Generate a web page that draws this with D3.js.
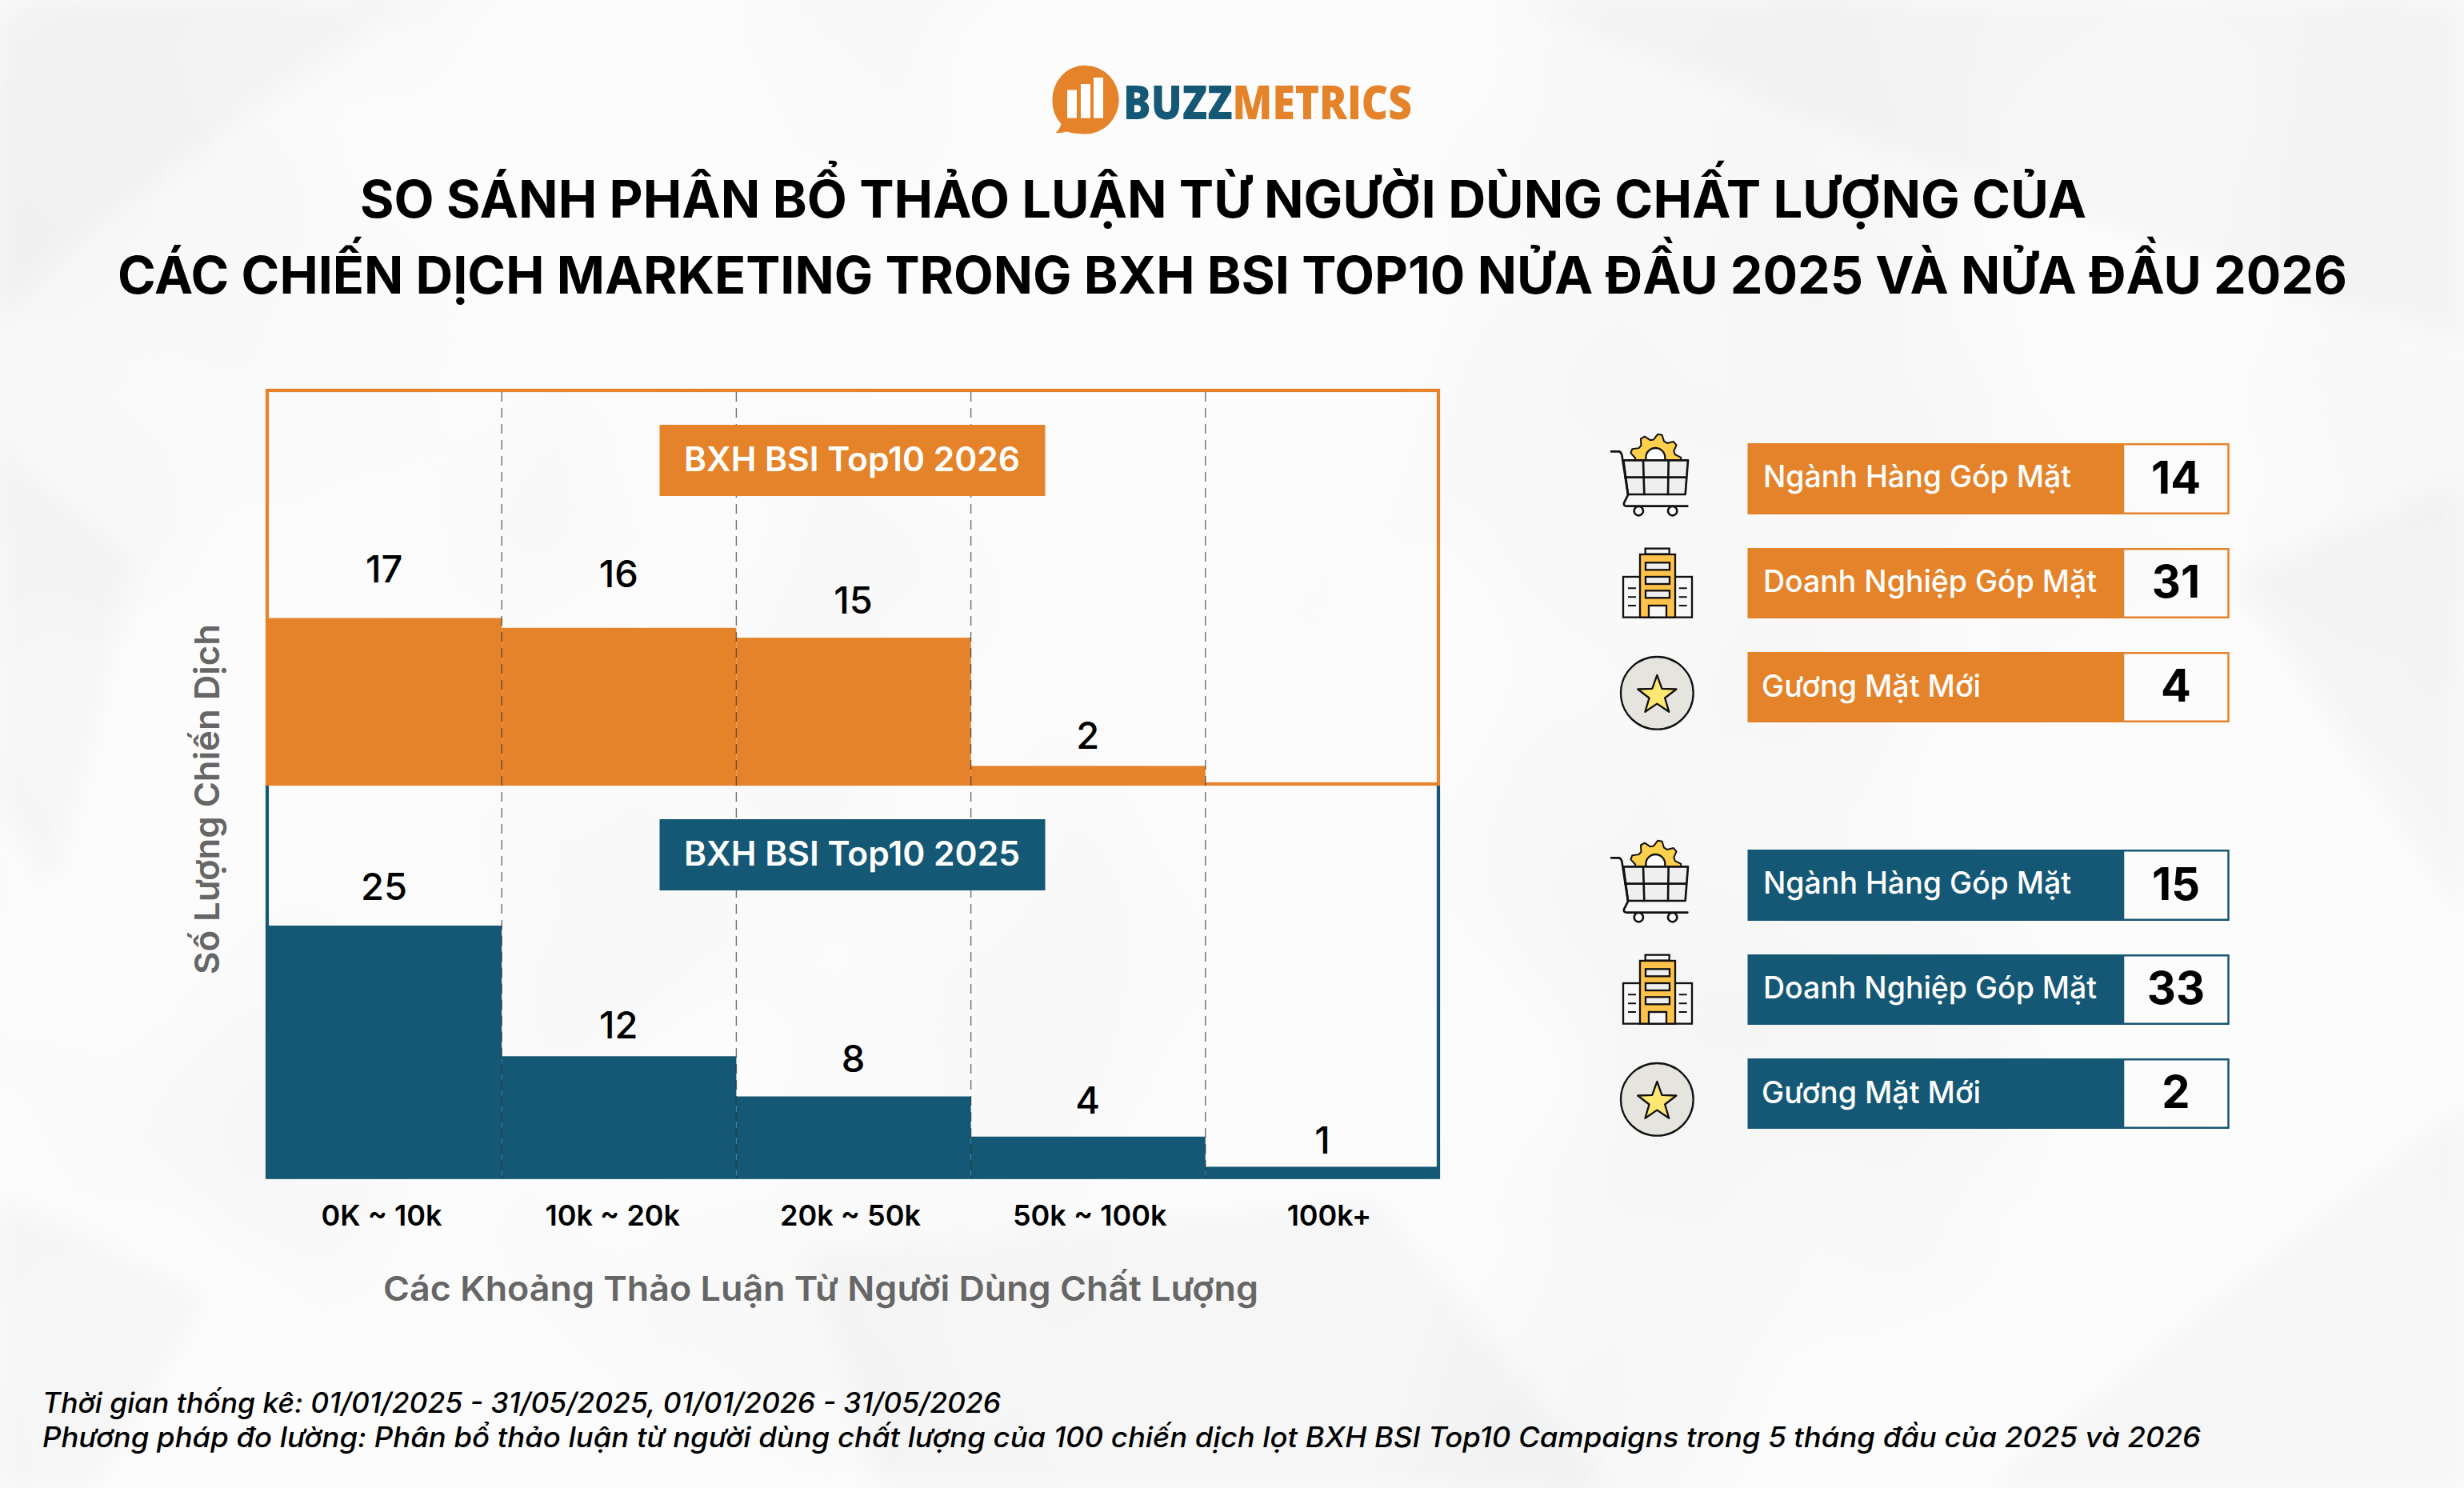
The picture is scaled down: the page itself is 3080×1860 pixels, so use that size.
<!DOCTYPE html>
<html lang="vi">
<head>
<meta charset="utf-8">
<title>So sánh phân bổ thảo luận</title>
<script src="https://cdn.jsdelivr.net/npm/d3@7"></script>
<style>
html,body{margin:0;padding:0;background:#fafafa}
svg{display:block}
text{font-family:Inter,"Noto Sans",sans-serif}
</style>
</head>
<body>
<div id="chart"></div>
<script>
// ---- data ----
const categories = ["0K ~ 10k","10k ~ 20k","20k ~ 50k","50k ~ 100k","100k+"];
const values2026 = [17,16,15,2,0];
const values2025 = [25,12,8,4,1];
const statLabels = ["Ngành Hàng Góp Mặt","Doanh Nghiệp Góp Mặt","Gương Mặt Mới"];
const stats2026 = [14,31,4];
const stats2025 = [15,33,2];
const tag2026 = "BXH BSI Top10 2026";
const tag2025 = "BXH BSI Top10 2025";
const titleLines = ["SO SÁNH PHÂN BỔ THẢO LUẬN TỪ NGƯỜI DÙNG CHẤT LƯỢNG CỦA","CÁC CHIẾN DỊCH MARKETING TRONG BXH BSI TOP10 NỬA ĐẦU 2025 VÀ NỬA ĐẦU 2026"];
const xTitle = "Các Khoảng Thảo Luận Từ Người Dùng Chất Lượng";
const yTitle = "Số Lượng Chiến Dịch";
const notes = ["Thời gian thống kê: 01/01/2025 - 31/05/2025, 01/01/2026 - 31/05/2026","Phương pháp đo lường: Phân bổ thảo luận từ người dùng chất lượng của 100 chiến dịch lọt BXH BSI Top10 Campaigns trong 5 tháng đầu của 2025 và 2026"];

// ---- layout / style ----
const W=3080,H=1860, ORANGE="#e5832a", NAVY="#145876";
const labelGap2026=[44,51,30,21.5,0], labelGap2025=[32,22,31,29,16];
const tickDx=[-3.6,-8,-4,2,8];
const statWidths=[385,417,274], statX=[2204,2204,2202];
const statBase=[609,740,871], valueBase=[617,747,877], statOffset=508;
const rowTop=[554,685,815], rowH=[89,88,88];

const svg=d3.select("#chart").append("svg").attr("width",W).attr("height",H).attr("viewBox",`0 0 ${W} ${H}`);
const defs=svg.append("defs");

// paper background
const f=defs.append("filter").attr("id","paper").attr("x",0).attr("y",0).attr("width","100%").attr("height","100%");
f.append("feTurbulence").attr("type","fractalNoise").attr("baseFrequency","0.0016 0.0013").attr("numOctaves",3).attr("seed",4);
f.append("feColorMatrix").attr("values","0 0 0 0 0.45  0 0 0 0 0.45  0 0 0 0 0.45  0.2 0 0 0 -0.08");
defs.append("filter").attr("id","soft").attr("x","-20%").attr("y","-20%").attr("width","140%").attr("height","140%")
  .append("feGaussianBlur").attr("stdDeviation",16);
svg.append("rect").attr("width",W).attr("height",H).attr("fill","#fcfcfc");
svg.append("rect").attr("width",W).attr("height",H).attr("filter","url(#paper)");
const creases=["M0,0 L520,0 L130,270 L0,400 Z","M1900,0 L3080,0 L3080,430 L2420,210 Z","M0,560 L170,700 L70,1110 L0,1010 Z",
 "M2480,1860 L3080,1380 L3080,1860 Z","M2790,720 L3080,600 L3080,1150 Z","M1000,1570 L1720,1500 L2010,1860 L1100,1860 Z","M0,1500 L260,1620 L120,1860 L0,1860 Z"];
svg.append("g").attr("filter","url(#soft)").attr("fill","#000").attr("fill-opacity",.022)
  .selectAll("path").data(creases).join("path").attr("d",d=>d);

function fit(t,w){return t.attr("textLength",w).attr("lengthAdjust","spacingAndGlyphs");}

// logo
const logo=svg.append("g");
logo.append("path").attr("fill",ORANGE).attr("d","M1357,82 a41.5,42.5 0 0 1 0,85.5 q-14,0 -24,-3 q-7,2.500 -13.500,1.500 q5,-4 7,-11 a42,42 0 0 1 -11,-30 a41.500,42.500 0 0 1 41.500,-43.500 z");
d3.zip([1334,1351,1367],[112.4,105,97]).forEach(([x,y])=>logo.append("rect").attr("x",x).attr("y",y).attr("width",12).attr("height",147.6-y).attr("fill","#fff"));
const lt=fit(logo.append("text").attr("x",1404).attr("y",149).attr("font-size",58).attr("font-weight",800).style("font-family","'Open Sans'"),361);
lt.append("tspan").attr("fill",NAVY).text("BUZZ");
lt.append("tspan").attr("fill",ORANGE).text("METRICS");

// title
const titleG=svg.append("g").attr("font-weight",700).attr("font-size",64).attr("fill","#000");
fit(titleG.append("text").attr("x",450).attr("y",272).text(titleLines[0]),2158);
fit(titleG.append("text").attr("x",147).attr("y",367).text(titleLines[1]),2787);

// scales
const x=d3.scaleBand().domain(categories).range([334,1800]);
const yTop=d3.scaleLinear().domain([0,40]).range([982,489]);
const yBot=d3.scaleLinear().domain([0,25]).range([1471,1157]);
const panels=[{vals:values2026,y:yTop,base:982,col:ORANGE,gap:labelGap2026},{vals:values2025,y:yBot,base:1473.5,col:NAVY,gap:labelGap2025}];

// bars
panels.forEach(p=>{
  svg.append("g").selectAll("rect").data(p.vals.map((v,i)=>({v,c:categories[i]}))).join("rect")
    .attr("x",d=>x(d.c)).attr("width",x.bandwidth())
    .attr("y",d=>p.y(d.v)).attr("height",d=>Math.max(0,p.base-p.y(d.v))).attr("fill",p.col);
});

// frames
const frame=svg.append("g").attr("fill","none").attr("stroke-width",4.2);
frame.append("path").attr("stroke",NAVY).attr("d","M334,982 V1471.500 H1798 V982");
frame.append("rect").attr("x",334).attr("y",488).attr("width",1464).attr("height",492).attr("stroke",ORANGE);
svg.append("rect").attr("x",332).attr("y",1469.500).attr("width",1468).attr("height",4).attr("fill",NAVY);

// dashed dividers (drawn from band edges)
svg.append("g").selectAll("line").data(categories.slice(1)).join("line")
  .attr("x1",d=>x(d)).attr("x2",d=>x(d)).attr("y1",490).attr("y2",1472)
  .attr("stroke","#222").attr("stroke-opacity",.65).attr("stroke-width",1.4).attr("stroke-dasharray","12 8");

// tags
[[tag2026,ORANGE,531,589],[tag2025,NAVY,1024,1082]].forEach(([t,c,top,base])=>{
  svg.append("rect").attr("x",824.5).attr("y",top).attr("width",482).attr("height",89).attr("fill",c);
  fit(svg.append("text").attr("x",855).attr("y",base).attr("font-size",42).attr("font-weight",600).attr("fill","#fff").text(t),420);
});

// value labels
panels.forEach(p=>{
  svg.append("g").selectAll("text").data(p.vals.map((v,i)=>({v,i})).filter(d=>d.v>0)).join("text")
    .attr("x",d=>x(categories[d.i])+x.bandwidth()/2-.5).attr("y",d=>p.y(d.v)-p.gap[d.i])
    .attr("text-anchor","middle").attr("font-size",47).attr("font-weight",500).attr("fill","#000")
    .text(d=>d.v);
});

// x axis
const ax=svg.append("g").attr("transform","translate(0,1474)").call(d3.axisBottom(x).tickSize(0).tickPadding(0));
ax.select(".domain").remove();
ax.selectAll("text").attr("y",58).attr("dy",0).attr("dx",(d,i)=>tickDx[i]).attr("font-size",36).attr("font-weight",600).attr("fill","#000").style("font-family","Inter");

// axis titles
fit(svg.append("text").attr("x",479).attr("y",1626).attr("font-size",43).attr("font-weight",600).attr("fill","#666").text(xTitle),1094);
fit(svg.append("text").attr("transform","translate(274,1218) rotate(-90)").attr("font-size",43).attr("font-weight",600).attr("fill","#666").text(yTitle),438);

// stat rows
[[stats2026,ORANGE,0],[stats2025,NAVY,statOffset]].forEach(([vals,c,off])=>{
  vals.forEach((v,i)=>{
    const g=svg.append("g").attr("transform",`translate(0,${off})`);
    g.append("rect").attr("x",2184.5).attr("y",rowTop[i]).attr("width",469.5).attr("height",rowH[i]).attr("fill",c);
    g.append("rect").attr("x",2654).attr("y",rowTop[i]+1.25).attr("width",131.5).attr("height",rowH[i]-2.5).attr("fill","none").attr("stroke",c).attr("stroke-width",2.5);
    fit(g.append("text").attr("x",statX[i]).attr("y",statBase[i]).attr("font-size",38).attr("font-weight",500).attr("fill","#fff").text(statLabels[i]),statWidths[i]);
    g.append("text").attr("x",2720).attr("y",valueBase[i]).attr("text-anchor","middle").attr("font-size",56).attr("font-weight",700).attr("fill","#000").text(v);
  });
});

// icons (drawn on a 3× local grid)
function icons(dy){
  const g=svg.append("g").attr("transform",`translate(1990,${dy}) scale(.3333)`)
    .attr("stroke","#111").attr("stroke-width",8).attr("stroke-linejoin","round").attr("stroke-linecap","round");
  // gear
  const teeth=9,cx=238,cy=158,R=96,r=76;
  const pts=[];
  d3.range(teeth*4).forEach(k=>{
    const a=-Math.PI/2+k*Math.PI*2/(teeth*4)+Math.PI*2/(teeth*8);
    const rad=(k%4<2)?R:r;
    pts.push([cx+rad*Math.cos(a),cy+rad*Math.sin(a)]);
  });
  g.append("path").attr("d",d3.line().curve(d3.curveLinearClosed)(pts)).attr("fill","#ffcf4d").attr("stroke-width",6);
  g.append("path").attr("d",`M${cx-36},165 V150 a36,36 0 0 1 72,0 V165 Z`).attr("fill","#fff").attr("stroke-width",7);
  // basket
  g.append("path").attr("d","M118,160 H360 L350,288 H135 Z").attr("fill","#efefef");
  g.append("path").attr("fill","none").attr("d","M192,160 L196,288 M287,160 L285,288 M124,224 H354");
  g.append("path").attr("fill","none").attr("d","M72,127 H100 Q108,127 112,140 L135,290 L120,320 Q118,332 130,332 H358");
  g.append("circle").attr("cx",175).attr("cy",350).attr("r",17).attr("fill","#fff");
  g.append("circle").attr("cx",302).attr("cy",350).attr("r",17).attr("fill","#fff");
  // building
  const b=g.append("g").attr("stroke-linejoin","miter").attr("stroke-linecap","butt").attr("stroke-width",7);
  b.append("rect").attr("x",200).attr("y",491).attr("width",90).attr("height",21).attr("fill","#f8f8f8");
  b.append("rect").attr("x",117).attr("y",597).attr("width",258).attr("height",152).attr("fill","#f8f8f8");
  b.append("rect").attr("x",180).attr("y",513).attr("width",132).attr("height",236).attr("fill","#ffc24a");
  [544,597,649].forEach(y=>b.append("rect").attr("x",201).attr("y",y).attr("width",90).attr("height",27).attr("fill","#eee"));
  b.append("rect").attr("x",213).attr("y",705).attr("width",66).attr("height",44).attr("fill","#f8f8f8");
  [640,673,705].forEach(y=>{
    b.append("path").attr("d",`M135,${y} H165 M326,${y} H356`).attr("fill","none").attr("stroke-width",6);
  });
  // star
  g.append("circle").attr("cx",244).attr("cy",1033).attr("r",136).attr("fill","#e6e4de").attr("stroke-width",7);
  const star=d3.range(10).map(k=>{
    const a=-Math.PI/2+k*Math.PI/5,rad=k%2?31:76;
    return [244+rad*Math.cos(a),1042+rad*Math.sin(a)];
  });
  g.append("path").attr("d",d3.line().curve(d3.curveLinearClosed)(star)).attr("fill","#fee873").attr("stroke-width",7);
}
icons(522);
icons(1030);

// footnotes
const nG=svg.append("g").attr("font-size",35).attr("font-style","italic").attr("font-weight",500).attr("fill","#000");
fit(nG.append("text").attr("x",53).attr("y",1766).text(notes[0]),1198);
fit(nG.append("text").attr("x",53).attr("y",1809).text(notes[1]),2698);
</script>
</body>
</html>
